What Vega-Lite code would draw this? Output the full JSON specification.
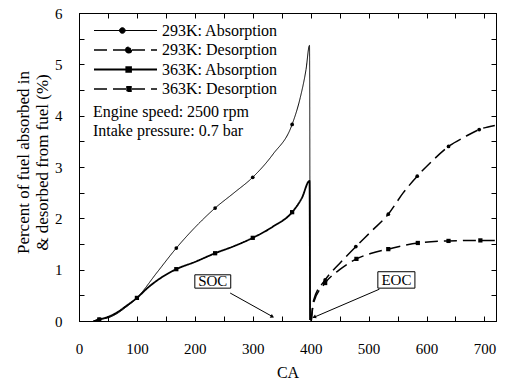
{
  "$schema": "https://vega.github.io/schema/vega-lite/v6.json",
  "width": 417,
  "height": 308,
  "autosize": "none",
  "padding": {"left": 79, "top": 13, "right": 13, "bottom": 58},
  "background": "white",
  "config": {
    "font": "Liberation Serif, Times New Roman, DejaVu Serif, serif",
    "view": {"stroke": "black", "strokeWidth": 1},
    "text": {"font": "Liberation Serif, Times New Roman, DejaVu Serif, serif"},
    "axis": {
      "domainColor": "black", "tickColor": "black", "labelColor": "black", "titleColor": "black",
      "grid": false, "labelFont": "Liberation Serif, Times New Roman, DejaVu Serif, serif", "titleFont": "Liberation Serif, Times New Roman, DejaVu Serif, serif",
      "labelFontSize": 15, "titleFontSize": 16, "titleFontWeight": "normal",
      "tickSize": -5, "domainWidth": 1, "tickWidth": 1, "labelFlush": false, "labelOverlap": false
    }
  },
  "datasets": {
    "curves": [
      {"series": "293K: Absorption", "CA": 25, "pct": 0, "measured": false},
      {"series": "293K: Absorption", "CA": 35, "pct": 0.03, "measured": true},
      {"series": "293K: Absorption", "CA": 50, "pct": 0.06, "measured": false},
      {"series": "293K: Absorption", "CA": 65, "pct": 0.14, "measured": false},
      {"series": "293K: Absorption", "CA": 80, "pct": 0.26, "measured": false},
      {"series": "293K: Absorption", "CA": 100, "pct": 0.45, "measured": true},
      {"series": "293K: Absorption", "CA": 135, "pct": 0.95, "measured": false},
      {"series": "293K: Absorption", "CA": 168, "pct": 1.42, "measured": true},
      {"series": "293K: Absorption", "CA": 200, "pct": 1.82, "measured": false},
      {"series": "293K: Absorption", "CA": 235, "pct": 2.2, "measured": true},
      {"series": "293K: Absorption", "CA": 268, "pct": 2.5, "measured": false},
      {"series": "293K: Absorption", "CA": 300, "pct": 2.8, "measured": true},
      {"series": "293K: Absorption", "CA": 335, "pct": 3.25, "measured": false},
      {"series": "293K: Absorption", "CA": 368, "pct": 3.83, "measured": true},
      {"series": "293K: Absorption", "CA": 382, "pct": 4.35, "measured": false},
      {"series": "293K: Absorption", "CA": 392, "pct": 4.9, "measured": false},
      {"series": "293K: Absorption", "CA": 398, "pct": 5.37, "measured": false},
      {"series": "293K: Absorption", "CA": 399, "pct": 0.02, "measured": false},
      {"series": "363K: Absorption", "CA": 25, "pct": 0, "measured": false},
      {"series": "363K: Absorption", "CA": 35, "pct": 0.03, "measured": true},
      {"series": "363K: Absorption", "CA": 50, "pct": 0.08, "measured": false},
      {"series": "363K: Absorption", "CA": 65, "pct": 0.16, "measured": false},
      {"series": "363K: Absorption", "CA": 80, "pct": 0.28, "measured": false},
      {"series": "363K: Absorption", "CA": 100, "pct": 0.45, "measured": true},
      {"series": "363K: Absorption", "CA": 120, "pct": 0.66, "measured": false},
      {"series": "363K: Absorption", "CA": 140, "pct": 0.83, "measured": false},
      {"series": "363K: Absorption", "CA": 168, "pct": 1.01, "measured": true},
      {"series": "363K: Absorption", "CA": 200, "pct": 1.15, "measured": false},
      {"series": "363K: Absorption", "CA": 235, "pct": 1.32, "measured": true},
      {"series": "363K: Absorption", "CA": 268, "pct": 1.46, "measured": false},
      {"series": "363K: Absorption", "CA": 300, "pct": 1.62, "measured": true},
      {"series": "363K: Absorption", "CA": 335, "pct": 1.84, "measured": false},
      {"series": "363K: Absorption", "CA": 368, "pct": 2.12, "measured": true},
      {"series": "363K: Absorption", "CA": 385, "pct": 2.4, "measured": false},
      {"series": "363K: Absorption", "CA": 398, "pct": 2.73, "measured": false},
      {"series": "363K: Absorption", "CA": 399, "pct": 0.02, "measured": false},
      {"series": "293K: Desorption", "CA": 401, "pct": 0, "measured": false},
      {"series": "293K: Desorption", "CA": 405, "pct": 0.4, "measured": false},
      {"series": "293K: Desorption", "CA": 425, "pct": 0.8, "measured": true},
      {"series": "293K: Desorption", "CA": 450, "pct": 1.12, "measured": false},
      {"series": "293K: Desorption", "CA": 478, "pct": 1.45, "measured": true},
      {"series": "293K: Desorption", "CA": 505, "pct": 1.75, "measured": false},
      {"series": "293K: Desorption", "CA": 534, "pct": 2.08, "measured": true},
      {"series": "293K: Desorption", "CA": 560, "pct": 2.5, "measured": false},
      {"series": "293K: Desorption", "CA": 584, "pct": 2.82, "measured": true},
      {"series": "293K: Desorption", "CA": 610, "pct": 3.12, "measured": false},
      {"series": "293K: Desorption", "CA": 638, "pct": 3.4, "measured": true},
      {"series": "293K: Desorption", "CA": 665, "pct": 3.58, "measured": false},
      {"series": "293K: Desorption", "CA": 691, "pct": 3.73, "measured": true},
      {"series": "293K: Desorption", "CA": 718, "pct": 3.81, "measured": false},
      {"series": "363K: Desorption", "CA": 401, "pct": 0, "measured": false},
      {"series": "363K: Desorption", "CA": 405, "pct": 0.35, "measured": false},
      {"series": "363K: Desorption", "CA": 425, "pct": 0.74, "measured": true},
      {"series": "363K: Desorption", "CA": 450, "pct": 1.0, "measured": false},
      {"series": "363K: Desorption", "CA": 479, "pct": 1.21, "measured": true},
      {"series": "363K: Desorption", "CA": 505, "pct": 1.32, "measured": false},
      {"series": "363K: Desorption", "CA": 534, "pct": 1.4, "measured": true},
      {"series": "363K: Desorption", "CA": 560, "pct": 1.47, "measured": false},
      {"series": "363K: Desorption", "CA": 585, "pct": 1.52, "measured": true},
      {"series": "363K: Desorption", "CA": 638, "pct": 1.56, "measured": true},
      {"series": "363K: Desorption", "CA": 693, "pct": 1.57, "measured": true},
      {"series": "363K: Desorption", "CA": 718, "pct": 1.57, "measured": false}
    ],
    "one": [{}]
  },
  "layer": [
    {
      "data": {"name": "curves"},
      "mark": {"type": "line", "color": "black", "interpolate": "monotone"},
      "encoding": {
        "x": {
          "field": "CA", "type": "quantitative",
          "scale": {"domain": [0, 720], "nice": false},
          "axis": {
            "title": "CA",
            "values": [0, 50, 100, 150, 200, 250, 300, 350, 400, 450, 500, 550, 600, 650, 700],
            "labelExpr": "datum.value % 100 === 0 ? datum.label : ''",
            "labelPadding": 25, "titlePadding": 8
          }
        },
        "y": {
          "field": "pct", "type": "quantitative",
          "scale": {"domain": [0, 6], "nice": false},
          "axis": {
            "title": ["Percent of fuel absorbed in", "& desorbed from fuel (%)"],
            "titleFontSize": 17, "titleLineHeight": 19,
            "values": [0, 0.5, 1, 1.5, 2, 2.5, 3, 3.5, 4, 4.5, 5, 5.5, 6],
            "labelExpr": "datum.value % 1 === 0 ? format(datum.value, 'd') : ''",
            "labelPadding": 22, "titlePadding": 3, "titleY": 149
          }
        },
        "detail": {"field": "series"},
        "strokeDash": {
          "field": "series", "type": "nominal",
          "scale": {
            "domain": ["293K: Absorption", "293K: Desorption", "363K: Absorption", "363K: Desorption"],
            "range": [[1, 0], [13, 6], [1, 0], [13, 6]]
          },
          "legend": {
            "title": null, "orient": "top-left", "offset": 8, "padding": 0,
            "symbolSize": 3969, "clipHeight": 19, "rowPadding": 0.5,
            "symbolOffset": 6, "labelOffset": 4,
            "symbolStrokeWidth": 1.3, "symbolStrokeColor": "black", "symbolFillColor": "black",
            "labelFont": "Liberation Serif, Times New Roman, DejaVu Serif, serif", "labelFontSize": 16, "labelColor": "black", "labelLimit": 0,
            "symbolType": "M-1,0H1",
            "encode": {
              "symbols": {
                "update": {
                  "fill": {"value": "black"},
                  "stroke": {"value": "black"},
                  "strokeWidth": {"value": 1.3},
                  "shape": {"signal": "datum.value === '293K: Absorption' ? 'M-1,0H1M-0.01,0A0.09,0.09,0,1,1,-0.19,0A0.09,0.09,0,1,1,-0.01,0Z' : datum.value === '293K: Desorption' ? 'M-1,0H1M0.19,0A0.09,0.09,0,1,1,0.01,0A0.09,0.09,0,1,1,0.19,0Z' : 'M-1,0H1M0.025,-0.075H0.175V0.075H0.025Z'"}
                }
              }
            }
          }
        },
        "strokeWidth": {
          "field": "series", "type": "nominal",
          "scale": {
            "type": "ordinal",
            "domain": ["293K: Absorption", "293K: Desorption", "363K: Absorption", "363K: Desorption"],
            "range": [1, 1.5, 1.8, 1.5]
          },
          "legend": null
        }
      }
    },
    {
      "data": {"name": "curves"},
      "transform": [{"filter": "datum.measured && indexof(datum.series, '293K') === 0"}],
      "mark": {"type": "point", "shape": "circle", "filled": true, "color": "black", "opacity": 1, "size": 14},
      "encoding": {
        "x": {"field": "CA", "type": "quantitative", "axis": null},
        "y": {"field": "pct", "type": "quantitative", "axis": null}
      }
    },
    {
      "data": {"name": "curves"},
      "transform": [{"filter": "datum.measured && indexof(datum.series, '363K') === 0"}],
      "mark": {"type": "square", "filled": true, "color": "black", "opacity": 1, "size": 18},
      "encoding": {
        "x": {"field": "CA", "type": "quantitative", "axis": null},
        "y": {"field": "pct", "type": "quantitative", "axis": null}
      }
    },
    {
      "data": {"name": "one"},
      "layer": [
        {
          "mark": {"type": "rect", "fill": "white", "stroke": "black", "strokeWidth": 1},
          "encoding": {
            "x": {"datum": 200, "type": "quantitative", "axis": null},
            "x2": {"datum": 262},
            "y": {"datum": 0.64, "type": "quantitative", "axis": null},
            "y2": {"datum": 0.9}
          }
        },
        {
          "mark": {"type": "rect", "fill": "white", "stroke": "black", "strokeWidth": 1},
          "encoding": {
            "x": {"datum": 516, "type": "quantitative", "axis": null},
            "x2": {"datum": 580},
            "y": {"datum": 0.64, "type": "quantitative", "axis": null},
            "y2": {"datum": 0.96}
          }
        },
        {
          "mark": {"type": "text", "fontSize": 15, "align": "center", "baseline": "middle", "color": "black"},
          "encoding": {
            "x": {"datum": 231, "type": "quantitative", "axis": null},
            "y": {"datum": 0.77, "type": "quantitative", "axis": null},
            "text": {"value": "SOC"}
          }
        },
        {
          "mark": {"type": "text", "fontSize": 15, "align": "center", "baseline": "middle", "color": "black"},
          "encoding": {
            "x": {"datum": 548, "type": "quantitative", "axis": null},
            "y": {"datum": 0.8, "type": "quantitative", "axis": null},
            "text": {"value": "EOC"}
          }
        },
        {
          "mark": {"type": "rule", "color": "black", "strokeWidth": 1},
          "encoding": {
            "x": {"datum": 261, "type": "quantitative", "axis": null},
            "y": {"datum": 0.545, "type": "quantitative", "axis": null},
            "x2": {"datum": 335},
            "y2": {"datum": 0.08}
          }
        },
        {
          "mark": {"type": "rule", "color": "black", "strokeWidth": 1},
          "encoding": {
            "x": {"datum": 518.7, "type": "quantitative", "axis": null},
            "y": {"datum": 0.62, "type": "quantitative", "axis": null},
            "x2": {"datum": 404},
            "y2": {"datum": 0.064}
          }
        },
        {
          "mark": {"type": "point", "shape": "triangle", "filled": true, "color": "black", "size": 18, "angle": 119, "opacity": 1},
          "encoding": {
            "x": {"datum": 333, "type": "quantitative", "axis": null},
            "y": {"datum": 0.09, "type": "quantitative", "axis": null}
          }
        },
        {
          "mark": {"type": "point", "shape": "triangle", "filled": true, "color": "black", "size": 18, "angle": 247, "opacity": 1},
          "encoding": {
            "x": {"datum": 407, "type": "quantitative", "axis": null},
            "y": {"datum": 0.08, "type": "quantitative", "axis": null}
          }
        },
        {
          "mark": {"type": "text", "fontSize": 16, "align": "left", "baseline": "middle", "color": "black"},
          "encoding": {
            "x": {"datum": 24, "type": "quantitative", "axis": null},
            "y": {"datum": 4.07, "type": "quantitative", "axis": null},
            "text": {"value": "Engine speed: 2500 rpm"}
          }
        },
        {
          "mark": {"type": "text", "fontSize": 16, "align": "left", "baseline": "middle", "color": "black"},
          "encoding": {
            "x": {"datum": 24, "type": "quantitative", "axis": null},
            "y": {"datum": 3.7, "type": "quantitative", "axis": null},
            "text": {"value": "Intake pressure: 0.7 bar"}
          }
        }
      ]
    },
    {
      "data": {"name": "curves"},
      "mark": {"type": "point", "opacity": 0},
      "encoding": {
        "x": {
          "field": "CA", "type": "quantitative",
          "axis": {
            "orient": "top", "labels": false, "title": null,
            "values": [0, 50, 100, 150, 200, 250, 300, 350, 400, 450, 500, 550, 600, 650, 700]
          }
        },
        "y": {
          "field": "pct", "type": "quantitative",
          "axis": {
            "orient": "right", "labels": false, "title": null,
            "values": [0, 0.5, 1, 1.5, 2, 2.5, 3, 3.5, 4, 4.5, 5, 5.5, 6]
          }
        }
      }
    }
  ],
  "resolve": {"axis": {"x": "independent", "y": "independent"}}
}
